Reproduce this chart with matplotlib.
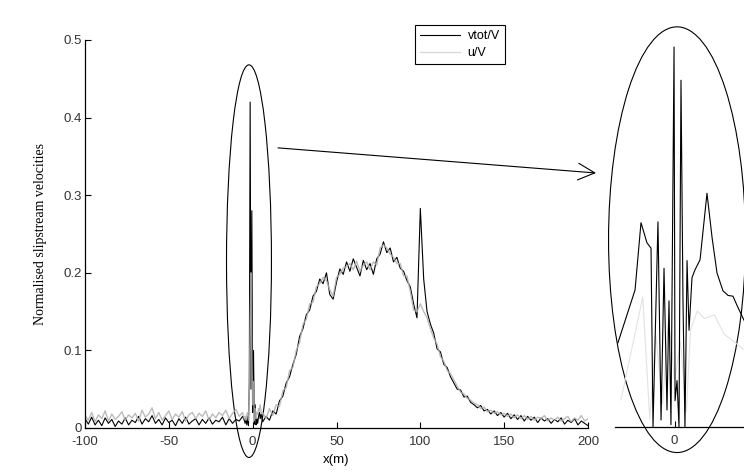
import numpy as np
import matplotlib
matplotlib.use('Agg')
import matplotlib.pyplot as plt
from matplotlib.patches import Ellipse

# sample positions (m)
x_far_left = np.arange(-100, -5, 2)
x_centre = np.arange(-5, 5.5, 0.5)
x_far_right = np.arange(6, 201, 2)

# vtot/V
vtot_left = [0.012, 0.005, 0.014, 0.004, 0.010, 0.003, 0.013, 0.006,
             0.011, 0.002, 0.009, 0.005, 0.013, 0.004, 0.010, 0.007,
             0.015, 0.005, 0.012, 0.008, 0.016, 0.006, 0.011, 0.004,
             0.013, 0.007, 0.010, 0.003, 0.012, 0.006, 0.014, 0.005,
             0.009, 0.012, 0.004, 0.011, 0.006, 0.013, 0.005, 0.010,
             0.008, 0.014, 0.004, 0.012, 0.006, 0.011, 0.009, 0.015]
vtot_centre = [0.010, 0.006, 0.012, 0.004, 0.015, 0.003, 0.060, 0.420,
               0.050, 0.280, 0.020, 0.100, 0.005, 0.030, 0.004, 0.012,
               0.006, 0.015, 0.020, 0.012, 0.018]
vtot_right = [0.008, 0.015, 0.010, 0.022, 0.018, 0.035, 0.041, 0.058,
              0.066, 0.082, 0.095, 0.118, 0.128, 0.146, 0.152, 0.170,
              0.176, 0.192, 0.186, 0.200, 0.172, 0.166, 0.188, 0.205,
              0.198, 0.214, 0.202, 0.218, 0.207, 0.196, 0.216, 0.204,
              0.212, 0.198, 0.218, 0.224, 0.240, 0.226, 0.232, 0.214,
              0.220, 0.206, 0.202, 0.190, 0.182, 0.160, 0.142, 0.283,
              0.192, 0.150, 0.134, 0.122, 0.102, 0.098, 0.082, 0.078,
              0.066, 0.058, 0.050, 0.049, 0.040, 0.041, 0.033, 0.030,
              0.026, 0.029, 0.022, 0.024, 0.018, 0.022, 0.016, 0.020,
              0.014, 0.019, 0.012, 0.017, 0.011, 0.016, 0.009, 0.015,
              0.010, 0.014, 0.007, 0.013, 0.009, 0.012, 0.006, 0.011,
              0.008, 0.013, 0.005, 0.010, 0.007, 0.012, 0.004, 0.009,
              0.006, 0.003]

# u/V
u_left = [0.016, 0.010, 0.020, 0.008, 0.017, 0.012, 0.022, 0.009,
          0.018, 0.011, 0.015, 0.021, 0.010, 0.017, 0.013, 0.019,
          0.009, 0.023, 0.014, 0.018, 0.026, 0.012, 0.020, 0.010,
          0.016, 0.022, 0.011, 0.018, 0.014, 0.021, 0.009, 0.017,
          0.020, 0.012, 0.019, 0.015, 0.022, 0.010, 0.018, 0.013,
          0.020, 0.016, 0.023, 0.012, 0.019, 0.024, 0.015, 0.020]
u_centre = [0.012, 0.015, 0.010, 0.018, 0.020, 0.010, 0.050, 0.140,
            0.200, 0.090, 0.030, 0.060, 0.010, 0.025, 0.012, 0.020,
            0.018, 0.025, 0.022, 0.030, 0.020]
u_right = [0.020, 0.012, 0.025, 0.016, 0.030, 0.028, 0.048, 0.052,
           0.074, 0.078, 0.100, 0.110, 0.134, 0.140, 0.160, 0.162,
           0.182, 0.186, 0.194, 0.190, 0.178, 0.170, 0.194, 0.198,
           0.206, 0.208, 0.212, 0.204, 0.215, 0.202, 0.210, 0.214,
           0.204, 0.214, 0.210, 0.232, 0.236, 0.232, 0.224, 0.220,
           0.212, 0.212, 0.196, 0.196, 0.176, 0.152, 0.150, 0.160,
           0.150, 0.142, 0.128, 0.116, 0.108, 0.092, 0.086, 0.074,
           0.070, 0.062, 0.054, 0.046, 0.044, 0.038, 0.036, 0.032,
           0.030, 0.025, 0.027, 0.021, 0.023, 0.019, 0.021, 0.017,
           0.019, 0.015, 0.018, 0.013, 0.017, 0.012, 0.016, 0.011,
           0.015, 0.010, 0.014, 0.012, 0.016, 0.009, 0.013, 0.010,
           0.014, 0.009, 0.012, 0.015, 0.008, 0.013, 0.010, 0.016,
           0.009, 0.012]

# zoomed detail around x = 0 (inset)
x_zoom = [-5.70, -3.98, -3.38, -2.78, -2.37, -2.17, -1.67, -1.36, -1.06,
          -0.76, -0.56, -0.36, -0.05, 0.05, 0.25, 0.45, 0.65, 0.85, 1.05,
          1.26, 1.46, 1.76, 2.06, 2.57, 3.27, 3.78, 4.28, 4.88, 5.39,
          5.89, 6.30, 7.00]
vtot_zoom = [0.109, 0.177, 0.264, 0.238, 0.231, 0.0, 0.265, 0.009, 0.205,
             0.022, 0.163, 0.003, 0.491, 0.034, 0.060, 0.0, 0.448, 0.164,
             0.0, 0.215, 0.125, 0.193, 0.203, 0.216, 0.302, 0.245, 0.199,
             0.176, 0.170, 0.169, 0.157, 0.138]
x_zoom_u = [-5.4, -3.2, -2.5, -1.9, -1.2, -0.6, 0.0, 0.6, 1.2, 1.6,
            2.3, 3.0, 4.0, 5.0, 6.0, 7.0]
u_zoom = [0.035, 0.168, 0.010, 0.120, 0.030, 0.140, 0.060, 0.110, 0.020,
          0.125, 0.150, 0.140, 0.145, 0.120, 0.110, 0.100]

x_main = np.concatenate([x_far_left, x_centre, x_far_right])
vtot = np.concatenate([vtot_left, vtot_centre, vtot_right])
u = np.concatenate([u_left, u_centre, u_right])

xticks = [-100, -50, 0, 50, 100, 150, 200]
yticks = [0, 0.1, 0.2, 0.3, 0.4, 0.5]
ytick_labels = ['0', '0.1', '0.2', '0.3', '0.4', '0.5']

W, H = 744, 472
fig = plt.figure(figsize=(W / 100, H / 100), dpi=100)
tick_font = dict(family='Liberation Sans', size=9.5)

ax = fig.add_axes([85 / W, 1 - 428 / H, 503 / W, 388 / H])
ax.plot(x_main, vtot, color='black', lw=0.8, label='vtot/V')
ax.plot(x_main, u, color='#b0b0b0', lw=1.0, alpha=0.85, label='u/V')
ax.set_xlim(-100, 200)
ax.set_ylim(0, 0.5)
ax.set_xticks(xticks)
ax.set_xticklabels([str(t) for t in xticks], **tick_font, color='#333333')
ax.set_yticks(yticks)
ax.set_yticklabels(ytick_labels, **tick_font, color='#333333')
ax.tick_params(direction='in', length=4, width=0.8)
ax.tick_params(axis='x', pad=6)
ax.tick_params(axis='y', pad=2)
for side in ['top', 'right']:
    ax.spines[side].set_visible(False)
for side in ['left', 'bottom']:
    ax.spines[side].set_linewidth(0.9)
ax.set_xlabel('x(m)', family='Liberation Sans', size=9.5, labelpad=4)
ax.set_ylabel('Normalised slipstream velocities', family='Liberation Serif',
              size=10, labelpad=12)

leg = ax.legend(loc='upper left', bbox_to_anchor=(415 / W, 1 - 25 / H),
                bbox_transform=fig.transFigure, borderaxespad=0,
                prop={'family': 'Liberation Sans', 'size': 9},
                handlelength=3.2, fancybox=False, framealpha=1,
                borderpad=0.4, labelspacing=0.4, handletextpad=0.6)
leg.get_frame().set_edgecolor('black')
leg.get_frame().set_linewidth(0.8)
leg.get_lines()[1].set_color('#d0d0d0')

# ellipse marking the region near x = 0
ax.add_patch(Ellipse((-2.2, 0.215), 26.8, 0.506, fill=False, lw=0.8,
                     edgecolor='black', clip_on=False))

# inset
ax2 = fig.add_axes([615 / W, 1 - 427 / H, 129 / W, 387 / H])
ax2.plot(x_zoom_u, u_zoom, color='#e2e2e2', lw=0.8)
ax2.plot(x_zoom, vtot_zoom, color='black', lw=0.8)
ax2.set_xlim(-6, 7)
ax2.set_ylim(0, 0.5)
ax2.set_xticks([0])
ax2.set_xticklabels(['0'], **tick_font, color='#333333')
ax2.set_yticks([])
ax2.tick_params(direction='in', length=4, width=0.8, pad=6)
for side in ['top', 'right', 'left']:
    ax2.spines[side].set_visible(False)
ax2.spines['bottom'].set_linewidth(0.9)
ax2.patch.set_alpha(0)
ax2.add_patch(Ellipse((0.25, 0.242), 13.8, 0.55, fill=False, lw=0.8,
                      edgecolor='black', clip_on=False))

ax.annotate('', xy=(596 / W, 1 - 173 / H), xycoords='figure fraction',
            xytext=(15.1, 0.361), textcoords='data',
            arrowprops=dict(arrowstyle='->,head_length=0.6,head_width=0.3',
                            mutation_scale=20, lw=0.8, color='black',
                            shrinkA=0, shrinkB=0))

fig.savefig('out.png', dpi=100)
